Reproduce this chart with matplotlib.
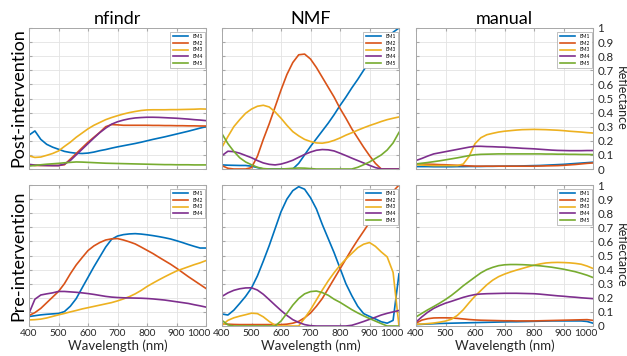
import numpy as np
import matplotlib
matplotlib.use('Agg')
import matplotlib.pyplot as plt
import matplotlib.transforms as mtrans

plt.rcParams['font.family'] = ['Lato', 'DejaVu Sans']

# wavelength grid (nm) shared by every curve
wl = [400, 420, 440, 460, 480, 500, 520, 540, 560, 580, 600, 620, 640, 660, 680, 700,
      720, 740, 760, 780, 800, 820, 840, 860, 880, 900, 920, 940, 960, 980, 1000]

# post-intervention, nfindr
post_nfindr = [
    [.24, .27, .21, .175, .155, .14, .125, .117, .112, .11, .113, .12, .13, .138, .148, .157,
     .165, .173, .181, .19, .2, .21, .219, .228, .238, .248, .258, .268, .279, .29, .30],
    [.03, .025, .025, .025, .025, .025, .03, .07, .11, .15, .19, .225, .26, .3, .315, .313,
     .31, .31, .31, .31, .31, .309, .309, .308, .308, .307, .307, .306, .306, .305, .305],
    [.093, .082, .085, .097, .11, .128, .16, .19, .225, .255, .285, .31, .33, .35, .365, .378,
     .39, .4, .408, .415, .419, .42, .42, .42, .421, .421, .422, .423, .424, .426, .425],
    [.033, .028, .026, .025, .024, .024, .035, .06, .1, .14, .18, .22, .258, .29, .318, .335,
     .347, .356, .362, .365, .367, .367, .366, .364, .362, .36, .357, .354, .35, .347, .343],
    [.021, .025, .03, .034, .037, .04, .044, .047, .05, .049, .047, .045, .043, .041, .04, .039,
     .038, .037, .036, .035, .034, .033, .032, .031, .031, .03, .03, .03, .029, .029, .029],
]

# post-intervention, NMF
post_nmf = [
    [.029, .027, .026, .025, .025, .02, .01, 0, 0, 0, 0, 0, 0, .04, .1, .16,
     .215, .27, .325, .385, .45, .51, .575, .635, .7, .76, .82, .88, .93, .97, 1.0],
    [.024, .005, 0, 0, 0, .01, .09, .21, .32, .44, .56, .67, .755, .81, .815, .78,
     .72, .65, .58, .51, .43, .36, .285, .22, .155, .095, .04, 0, 0, 0, 0],
    [.155, .23, .3, .35, .395, .425, .445, .452, .44, .405, .36, .31, .265, .235, .21, .195,
     .185, .183, .19, .203, .22, .24, .257, .275, .292, .308, .322, .337, .35, .36, .369],
    [.095, .126, .123, .112, .096, .08, .06, .043, .033, .029, .035, .047, .062, .083, .103, .12,
     .133, .138, .136, .128, .112, .095, .077, .06, .043, .026, .01, 0, 0, 0, 0],
    [.25, .18, .125, .08, .05, .03, .012, .003, 0, 0, 0, .002, .005, .007, .006, .003,
     0, 0, 0, 0, 0, 0, 0, .012, .03, .05, .075, .1, .135, .185, .26],
]

# post-intervention, manual
post_manual = [
    [.017, .017, .017, .016, .016, .016, .016, .017, .017, .018, .018, .018, .019, .019, .02, .02,
     .021, .021, .022, .023, .024, .025, .027, .029, .031, .033, .036, .039, .042, .045, .048],
    [.036, .035, .034, .033, .031, .03, .028, .026, .024, .022, .02, .02, .02, .02, .02, .02,
     .02, .02, .02, .02, .02, .021, .022, .023, .024, .026, .029, .032, .036, .04, .043],
    [.03, .028, .026, .024, .024, .024, .024, .024, .035, .09, .18, .222, .243, .253, .262, .268,
     .272, .276, .279, .28, .281, .28, .279, .277, .275, .272, .268, .265, .262, .258, .255],
    [.06, .075, .092, .107, .115, .123, .131, .139, .147, .155, .161, .161, .159, .158, .156, .155,
     .152, .15, .147, .145, .143, .14, .137, .134, .132, .131, .13, .13, .13, .131, .131],
    [.036, .041, .046, .052, .058, .065, .072, .079, .087, .095, .101, .104, .105, .106, .107, .107,
     .107, .107, .107, .107, .107, .107, .106, .106, .105, .105, .104, .104, .103, .103, .102],
]

# pre-intervention, nfindr (4 endmembers)
pre_nfindr = [
    [.067, .073, .079, .083, .086, .089, .102, .14, .194, .27, .345, .42, .49, .56, .615, .638,
     .648, .653, .655, .652, .647, .641, .634, .626, .617, .605, .592, .578, .565, .553, .553],
    [.074, .095, .125, .165, .205, .245, .3, .37, .433, .485, .535, .568, .592, .61, .618, .62,
     .61, .597, .582, .56, .537, .514, .488, .463, .438, .41, .38, .35, .322, .294, .266],
    [.043, .045, .049, .057, .068, .079, .089, .1, .11, .121, .13, .139, .148, .157, .166, .178,
     .192, .208, .228, .252, .28, .304, .327, .349, .37, .39, .405, .42, .435, .448, .464],
    [.09, .19, .22, .228, .235, .245, .245, .242, .239, .235, .23, .224, .217, .21, .205, .202,
     .2, .199, .198, .197, .195, .192, .188, .184, .178, .172, .166, .16, .151, .143, .134],
]

# pre-intervention, NMF
pre_nmf = [
    [.085, .078, .112, .16, .21, .27, .355, .46, .57, .69, .81, .9, .96, .988, .97, .91,
     .83, .72, .62, .52, .41, .3, .215, .14, .088, .068, .05, .03, .02, .04, .37],
    [.017, .013, .011, .01, .01, .01, .01, .01, .01, .01, .01, .013, .02, .033, .058, .092,
     .14, .195, .265, .335, .405, .475, .545, .61, .672, .735, .8, .858, .91, .955, 1.0],
    [.005, .04, .058, .07, .08, .091, .088, .065, .032, .005, 0, 0, 0, 0, .055, .115,
     .185, .255, .32, .378, .43, .475, .515, .555, .58, .592, .565, .525, .49, .38, 0],
    [.21, .235, .253, .264, .27, .271, .255, .225, .187, .148, .11, .075, .045, .025, .01, .002,
     0, 0, 0, 0, 0, 0, .005, .018, .032, .047, .062, .078, .09, .1, .11],
    [.04, .008, 0, 0, 0, 0, 0, 0, 0, 0, .035, .09, .148, .195, .228, .244,
     .248, .237, .218, .19, .168, .142, .116, .093, .072, .053, .035, .017, 0, 0, 0],
]

# pre-intervention, manual
pre_manual = [
    [.01, .012, .014, .016, .018, .019, .02, .021, .022, .023, .024, .025, .026, .027, .028, .029,
     .03, .03, .031, .032, .033, .034, .035, .036, .036, .036, .036, .036, .036, .032, .02],
    [.02, .042, .052, .057, .058, .058, .057, .054, .05, .046, .043, .041, .04, .039, .038, .037,
     .037, .036, .036, .036, .036, .037, .038, .039, .04, .041, .042, .043, .044, .045, .04],
    [.012, .014, .017, .021, .027, .035, .048, .075, .115, .165, .212, .252, .292, .325, .35, .368,
     .383, .396, .408, .42, .431, .44, .447, .45, .451, .45, .448, .444, .438, .425, .408],
    [.028, .065, .098, .125, .145, .162, .175, .189, .203, .214, .223, .227, .229, .23, .231, .232,
     .232, .232, .231, .23, .229, .226, .222, .218, .214, .211, .207, .204, .2, .197, .194],
    [.064, .09, .115, .138, .162, .188, .217, .25, .285, .316, .347, .377, .4, .416, .428, .434,
     .436, .436, .435, .433, .43, .427, .422, .417, .41, .403, .394, .385, .373, .36, .344],
]

titles = ['nfindr', 'NMF', 'manual']
row_labels = ['Post-intervention', 'Pre-intervention']
colors = ['#0072BD', '#D95319', '#EDB120', '#7E2F8E', '#77AC30']

W, H = 627, 356
fig = plt.figure(figsize=(W / 100, H / 100), dpi=100)

lefts = [29, 222, 416]
tops = [28, 185]
aw, ah = 177, 141

panels = [[post_nfindr, post_nmf, post_manual], [pre_nfindr, pre_nmf, pre_manual]]

for r in range(2):
    for c in range(3):
        ax = fig.add_axes([lefts[c] / W, 1 - (tops[r] + ah) / H, aw / W, ah / H])
        for i, vals in enumerate(panels[r][c]):
            ax.plot(wl, vals, color=colors[i], lw=1.2, label='EM%d' % (i + 1))
        ax.set_xlim(400, 1000)
        ax.set_ylim(0, 1)
        ax.set_xticks(np.arange(400, 1001, 100))
        ax.set_yticks(np.arange(0, 1.01, 0.1))
        ax.grid(True, color='#e3e3e3', lw=0.6)
        for s in ax.spines.values():
            s.set_color('#a8a8a8')
            s.set_linewidth(0.7)
        ax.tick_params(direction='in', length=2, color='#a8a8a8',
                       labelcolor='#262626', top=True, right=True, pad=2)
        ax.tick_params(axis='x', labelsize=7.3)
        ax.tick_params(axis='y', labelsize=8.3)
        if r == 0:
            ax.set_xticklabels([])
            ax.set_title(titles[c], fontsize=13, pad=3)
        else:
            ax.set_xlabel('Wavelength (nm)', fontsize=9.5, color='#262626', labelpad=1)
            # the last label sits a bit left of its tick, as in the original
            last = ax.get_xticklabels()[-1]
            last.set_transform(last.get_transform() +
                               mtrans.ScaledTranslation(-0.07, 0, fig.dpi_scale_trans))
        if c == 2:
            ax.yaxis.tick_right()
            ax.tick_params(axis='y', left=True, pad=3)
            ax.set_yticklabels(['0'] + ['%.1f' % v for v in np.arange(0.1, 0.95, 0.1)] + ['1'])
            ax.yaxis.set_label_position('right')
            ax.set_ylabel('Reflectance', fontsize=9, rotation=270, labelpad=10, color='#262626')
        else:
            ax.set_yticklabels([])
        leg = ax.legend(loc='upper right', bbox_to_anchor=(0.995, 0.975), borderaxespad=0,
                        fontsize=3.5, handlelength=3.2, labelspacing=0.35, borderpad=0.5,
                        fancybox=False, framealpha=1)
        leg.get_frame().set_edgecolor('#a8a8a8')
        leg.get_frame().set_linewidth(0.5)
        for ln in leg.get_lines():
            ln.set_linewidth(1.2)

fig.text(18 / W, 1 - 98 / H, row_labels[0], rotation=90, fontsize=13, ha='center', va='center')
fig.text(18 / W, 1 - 256 / H, row_labels[1], rotation=90, fontsize=13, ha='center', va='center')

fig.savefig('out.png', dpi=100)
